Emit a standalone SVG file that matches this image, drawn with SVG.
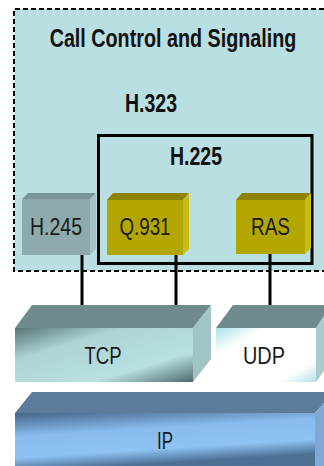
<svg xmlns="http://www.w3.org/2000/svg" width="324" height="466" viewBox="0 0 324 466">
<style>
.lbl{font-family:"Liberation Sans",Arial,sans-serif;font-size:24px;fill:#1a1a1a;text-anchor:middle}
.ttl{font-family:"Liberation Sans",Arial,sans-serif;font-size:25px;font-weight:bold;fill:#111;text-anchor:middle}
.conn{stroke:#000;stroke-width:3;fill:none}
</style>
<defs>
<linearGradient id="gTcp" x1="0" y1="0" x2="1" y2="1">
<stop offset="0" stop-color="#587475"/>
<stop offset="0.3" stop-color="#aed4d6"/>
<stop offset="0.72" stop-color="#b8e0e0"/>
<stop offset="1" stop-color="#4f696a"/>
</linearGradient>
<linearGradient id="gUdp" x1="0" y1="0" x2="1" y2="1">
<stop offset="0" stop-color="#a8e2e8"/>
<stop offset="0.25" stop-color="#ffffff"/>
<stop offset="0.8" stop-color="#ffffff"/>
<stop offset="1" stop-color="#b2e0e6"/>
</linearGradient>
<linearGradient id="gIp" x1="0" y1="0" x2="0.35" y2="1">
<stop offset="0" stop-color="#45668a"/>
<stop offset="0.4" stop-color="#89bbee"/>
<stop offset="0.75" stop-color="#8fc3f4"/>
<stop offset="1" stop-color="#4c7094"/>
</linearGradient>
</defs>

<g id="call-control">
<rect x="14" y="9" width="310" height="262" fill="#b9dfe2"/>
<path d="M324,9 H14 V271 H324" fill="none" stroke="#000" stroke-width="2" stroke-dasharray="5,3"/>
<text class="ttl" x="219" y="47" transform="scale(0.79,1)">Call Control and Signaling</text>
<text class="ttl" x="151" y="112" textLength="52" lengthAdjust="spacingAndGlyphs">H.323</text>
</g>

<g id="h225">
<rect x="98.5" y="135.5" width="213.5" height="128" fill="none" stroke="#000" stroke-width="3"/>
<text class="ttl" x="196" y="165" textLength="52" lengthAdjust="spacingAndGlyphs">H.225</text>
</g>

<g id="connectors">
<line class="conn" x1="82" y1="254" x2="82" y2="305"/>
<line class="conn" x1="176" y1="254" x2="176" y2="305"/>
<line class="conn" x1="270" y1="254" x2="270" y2="305"/>
</g>

<g id="h245">
<polygon points="22,199 28,193 96,193 90,199" fill="#78969a"/>
<polygon points="90,199 96,193 96,249 90,255" fill="#a6c2c4"/>
<rect x="22" y="199" width="68" height="56" fill="#8eaaad"/>
<text class="lbl" x="56" y="235" textLength="52" lengthAdjust="spacingAndGlyphs">H.245</text>
</g>

<g id="q931">
<polygon points="107,200 113,193 189,193 183,200" fill="#8c8300"/>
<polygon points="183,200 189,193 189,249 183,255" fill="#c8bc10"/>
<rect x="107" y="200" width="76" height="55" fill="#b3a600"/>
<text class="lbl" x="145" y="235" textLength="51" lengthAdjust="spacingAndGlyphs">Q.931</text>
</g>

<g id="ras">
<polygon points="236,200 242,193 311,193 305,200" fill="#8c8300"/>
<polygon points="305,200 311,193 311,248 305,254" fill="#c8bc10"/>
<rect x="236" y="200" width="69" height="54" fill="#b3a600"/>
<text class="lbl" x="270.5" y="235" textLength="39" lengthAdjust="spacingAndGlyphs">RAS</text>
</g>

<g id="tcp">
<polygon points="15,328 32,305 211,305 193,328" fill="#6f8b8b"/>
<polygon points="193,328 211,305 211,359 193,382" fill="#a3c4c4"/>
<rect x="15" y="328" width="178" height="54" fill="url(#gTcp)"/>
<text class="lbl" x="103" y="364" textLength="37" lengthAdjust="spacingAndGlyphs">TCP</text>
</g>

<g id="udp">
<polygon points="216,328 233,305 324,305 324,316 316,328" fill="#6f8b8b"/>
<polygon points="316,328 324,316 324,371 316,382" fill="#a9cbcc"/>
<rect x="216" y="328" width="100" height="54" fill="url(#gUdp)"/>
<text class="lbl" x="264" y="364" textLength="42" lengthAdjust="spacingAndGlyphs">UDP</text>
</g>

<g id="ip">
<polygon points="15,413 32,392 324,392 324,403 315,413" fill="#5d7c9c"/>
<polygon points="315,413 324,403 324,466 315,466" fill="#80a8d4"/>
<rect x="15" y="413" width="300" height="53" fill="url(#gIp)"/>
<text class="lbl" x="165" y="449" textLength="16" lengthAdjust="spacingAndGlyphs">IP</text>
</g>
</svg>
